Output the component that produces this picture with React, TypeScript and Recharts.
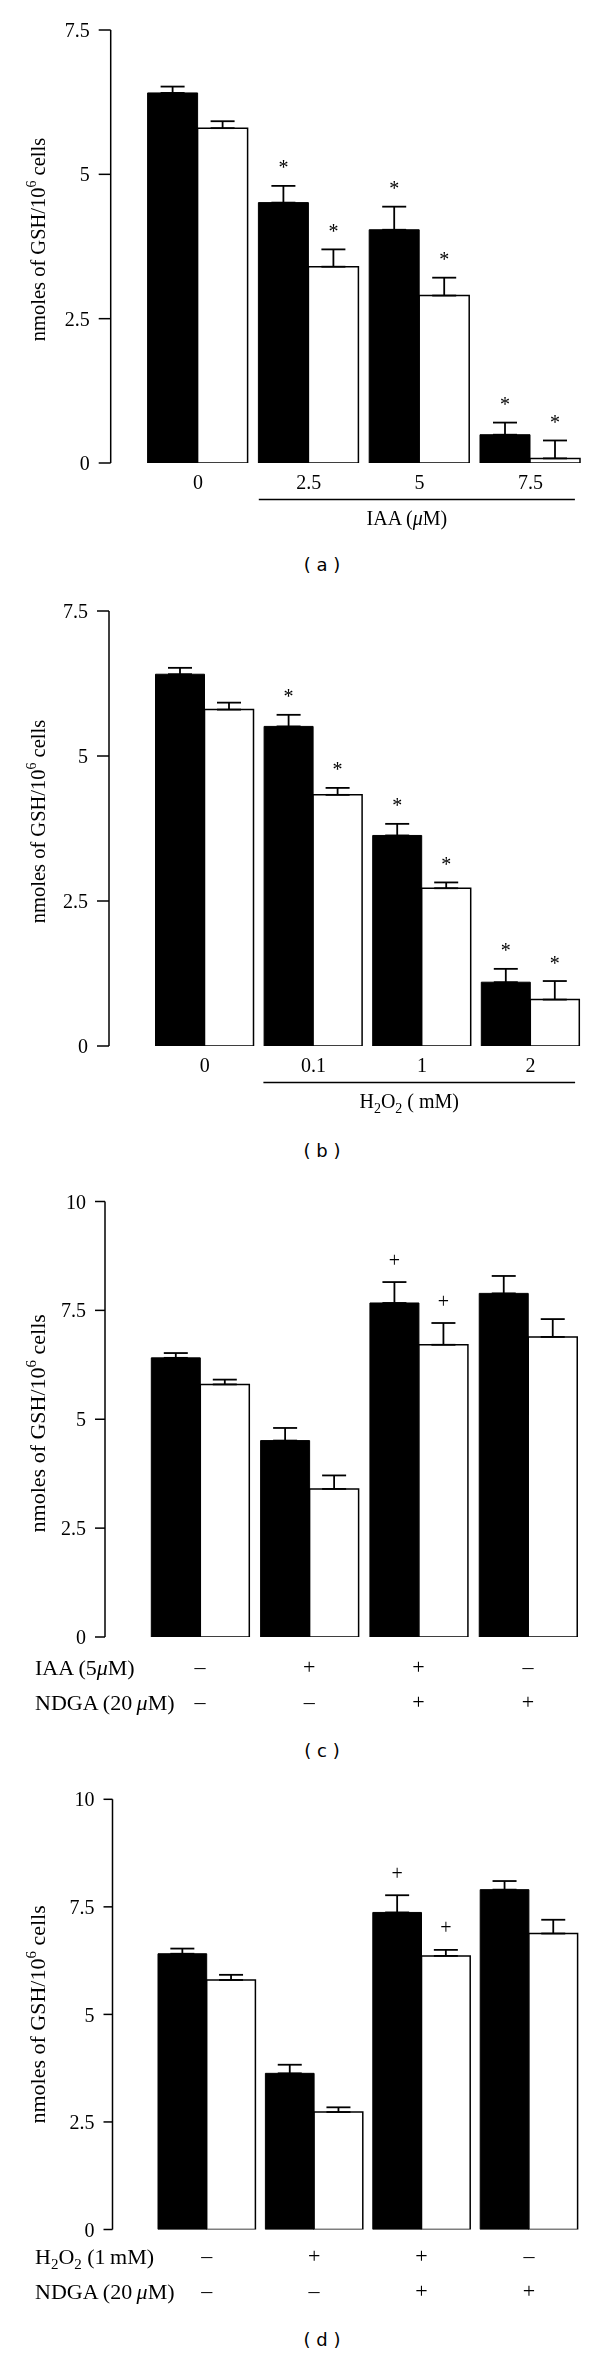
import React from 'react';
import { BarChart, Bar, XAxis, YAxis, ErrorBar, LabelList } from 'recharts';

const SERIF = "'Liberation Serif', 'Times New Roman', serif";

// ---------- Panel (a): IAA (µM) ----------
const catsA = ['0', '2.5', '5', '7.5'];
const blackA = [6.41, 4.51, 4.04, 0.49];
const blackErrA = [0.11, 0.29, 0.40, 0.21];
const whiteA = [5.8, 3.4, 2.9, 0.08];
const whiteErrA = [0.12, 0.3, 0.31, 0.31];
const blackMarkA = ['', '*', '*', '*'];
const whiteMarkA = ['', '*', '*', '*'];

// ---------- Panel (b): H2O2 (mM) ----------
const catsB = ['0', '0.1', '1', '2'];
const blackB = [6.41, 5.51, 3.63, 1.1];
const blackErrB = [0.11, 0.2, 0.2, 0.23];
const whiteB = [5.8, 4.33, 2.72, 0.8];
const whiteErrB = [0.12, 0.12, 0.1, 0.32];
const blackMarkB = ['', '*', '*', '*'];
const whiteMarkB = ['', '*', '*', '*'];

// ---------- Panel (c): IAA / NDGA ----------
const catsC = ['c1', 'c2', 'c3', 'c4'];
const rowC1 = ['\u2013', '+', '+', '\u2013'];
const rowC2 = ['\u2013', '\u2013', '+', '+'];
const blackC = [6.41, 4.51, 7.67, 7.89];
const blackErrC = [0.11, 0.29, 0.48, 0.4];
const whiteC = [5.8, 3.4, 6.71, 6.89];
const whiteErrC = [0.11, 0.31, 0.5, 0.41];
const blackMarkC = ['', '', '+', ''];
const whiteMarkC = ['', '', '+', ''];

// ---------- Panel (d): H2O2 / NDGA ----------
const catsD = ['d1', 'd2', 'd3', 'd4'];
const rowD1 = ['\u2013', '+', '+', '\u2013'];
const rowD2 = ['\u2013', '\u2013', '+', '+'];
const blackD = [6.41, 3.63, 7.37, 7.9];
const blackErrD = [0.12, 0.2, 0.4, 0.2];
const whiteD = [5.8, 2.73, 6.36, 6.88];
const whiteErrD = [0.12, 0.11, 0.14, 0.32];
const blackMarkD = ['', '', '+', ''];
const whiteMarkD = ['', '', '+', ''];

const ticks75 = [0, 2.5, 5, 7.5];
const ticks10 = [0, 2.5, 5, 7.5, 10];

type Row = {
  cat: string;
  b: number; bE: number; bErr: number[]; bM: string;
  w: number; wE: number; wErr: number[]; wM: string;
};

const build = (cats: string[], b: number[], bE: number[], w: number[], wE: number[], bM: string[], wM: string[]): Row[] =>
  cats.map((c, i) => ({
    cat: c,
    b: b[i], bE: bE[i], bErr: [0, bE[i]], bM: bM[i],
    w: w[i], wE: wE[i], wErr: [0, wE[i]], wM: wM[i],
  }));

const dataA = build(catsA, blackA, blackErrA, whiteA, whiteErrA, blackMarkA, whiteMarkA);
const dataB = build(catsB, blackB, blackErrB, whiteB, whiteErrB, blackMarkB, whiteMarkB);
const dataC = build(catsC, blackC, blackErrC, whiteC, whiteErrC, blackMarkC, whiteMarkC);
const dataD = build(catsD, blackD, blackErrD, whiteD, whiteErrD, blackMarkD, whiteMarkD);

const makeMarker = (rows: Row[], valKey: 'b' | 'w', errKey: 'bE' | 'wE') => (props: any) => {
  const vb = props.viewBox && typeof props.viewBox.x === 'number' ? props.viewBox : props;
  const { x, y, width, height } = vb;
  const value = props.value;
  if (!value) return null;
  let idx = props.index;
  if (typeof idx !== 'number') idx = rows.findIndex((r) => r === props.payload);
  const row = rows[idx];
  if (!row) return null;
  const h = Math.abs(height);
  const top = Math.min(y, y + height);
  const ppu = h / row[valKey];
  const errTop = top - row[errKey] * ppu;
  const cy = errTop - 21;
  const base = value === '*' ? cy + 9.5 : cy + 5.5;
  return (
    <text x={x + width / 2} y={base} textAnchor="middle" fontSize={20} fontFamily={SERIF} fill="#000">
      {value}
    </text>
  );
};

const yLabel = (fontSize: number, shift: number) => (p: any) => {
  const vb = p.viewBox || p;
  const cy = vb.y + vb.height / 2 + shift;
  const bx = 45;
  return (
    <text
      x={bx}
      y={cy}
      transform={`rotate(-90, ${bx}, ${cy})`}
      textAnchor="middle"
      fontSize={fontSize}
      fontFamily={SERIF}
      fill="#000"
    >
      nmoles of GSH/10
      <tspan dy={-fontSize * 0.42} fontSize={fontSize * 0.68}>6</tspan>
      <tspan dy={fontSize * 0.42}> cells</tspan>
    </text>
  );
};

const makeDoseTick = (title: React.ReactNode) => (props: any) => {
  const { x, y, payload } = props;
  const idx = typeof props.index === 'number' ? props.index : payload.index;
  const half = payload && typeof payload.offset === 'number' && payload.offset > 0 ? payload.offset : 55;
  const pitch = 2 * half;
  const els: React.ReactNode[] = [
    <text key="t" x={x} y={y + 25.5} textAnchor="middle" fontSize={20} fontFamily={SERIF} fill="#000">
      {payload.value}
    </text>,
  ];
  if (idx === 1) {
    const x1 = x - 50;
    const x2 = x + 2 * pitch + 44.5;
    els.push(<line key="l" x1={x1} x2={x2} y1={y + 36.5} y2={y + 36.5} stroke="#000" strokeWidth={1.5} />);
    els.push(
      <text key="ti" x={(x1 + x2) / 2 - 10} y={y + 62} textAnchor="middle" fontSize={20} fontFamily={SERIF} fill="#000">
        {title}
      </text>
    );
  }
  return <g>{els}</g>;
};

const makeSignTick = (
  row1: string[],
  row2: string[],
  label1: React.ReactNode,
  label2: React.ReactNode,
  dy1: number,
  dy2: number
) => (props: any) => {
  const { x, y, payload } = props;
  const idx = typeof props.index === 'number' ? props.index : payload.index;
  return (
    <g>
      <text x={x} y={y + dy1 + 5.5} textAnchor="middle" fontSize={22} fontFamily={SERIF} fill="#000">
        {row1[idx]}
      </text>
      <text x={x} y={y + dy2 + 5.5} textAnchor="middle" fontSize={22} fontFamily={SERIF} fill="#000">
        {row2[idx]}
      </text>
      {idx === 0 && (
        <g>
          <text x={35} y={y + dy1 + 7} textAnchor="start" fontSize={22} fontFamily={SERIF} fill="#000">
            {label1}
          </text>
          <text x={35} y={y + dy2 + 7} textAnchor="start" fontSize={22} fontFamily={SERIF} fill="#000">
            {label2}
          </text>
        </g>
      )}
    </g>
  );
};

const mu = <tspan fontStyle="italic">{'\u03bc'}</tspan>;

const titleA = (
  <>
    IAA ({mu}M)
  </>
);
const titleB = (
  <>
    H<tspan dy={5} fontSize={14}>2</tspan>
    <tspan dy={-5}>O</tspan>
    <tspan dy={5} fontSize={14}>2</tspan>
    <tspan dy={-5}> ( mM)</tspan>
  </>
);
const iaaRowLabel = (
  <>
    IAA (5{mu}M)
  </>
);
const ndgaRowLabel = (
  <>
    NDGA (20{'\u2009'}{mu}M)
  </>
);
const h2o2RowLabel = (
  <>
    H<tspan dy={5} fontSize={15}>2</tspan>
    <tspan dy={-5}>O</tspan>
    <tspan dy={5} fontSize={15}>2</tspan>
    <tspan dy={-5}> (1{'\u2009'}mM)</tspan>
  </>
);

type PanelProps = {
  data: Row[];
  top: number;
  height: number;
  marginTop: number;
  axisX: number;
  padLeft: number;
  marginRight: number;
  xAxisHeight: number;
  barSize: number;
  domainMax: number;
  ticks: number[];
  tickSize: number;
  tick: any;
  yFont: number;
  yShift: number;
};

const Panel = (p: PanelProps) => {
  const yw = 80;
  return (
    <div style={{ position: 'absolute', left: 0, top: p.top, width: 600, height: p.height, willChange: 'transform' }}>
      <BarChart
        width={600}
        height={p.height}
        data={p.data}
        margin={{ top: p.marginTop, right: p.marginRight, bottom: 0, left: p.axisX - yw }}
        barGap={0}
        barSize={p.barSize}
      >
        <XAxis
          dataKey="cat"
          type="category"
          axisLine={false}
          tickLine={false}
          tickSize={0}
          tickMargin={0}
          height={p.xAxisHeight}
          padding={{ left: p.padLeft, right: 0 }}
          interval={0}
          tick={p.tick}
        />
        <YAxis
          type="number"
          domain={[0, p.domainMax]}
          ticks={p.ticks}
          interval={0}
          width={yw}
          tickSize={p.tickSize}
          tickMargin={9}
          axisLine={{ stroke: '#000', strokeWidth: 1.5 }}
          tickLine={{ stroke: '#000', strokeWidth: 1.5 }}
          tick={{ fill: '#000', fontSize: 20, fontFamily: SERIF }}
          tickFormatter={(v: number) => String(v)}
          allowDataOverflow
          label={yLabel(p.yFont, p.yShift)}
        />
        <Bar dataKey="b" fill="#000" stroke="#000" strokeWidth={1} isAnimationActive={false}>
          <ErrorBar dataKey="bErr" width={12} stroke="#000" strokeWidth={1.8} direction="y" />
          <LabelList dataKey="bM" content={makeMarker(p.data, 'b', 'bE')} />
        </Bar>
        <Bar dataKey="w" fill="#fff" stroke="#000" strokeWidth={1.5} isAnimationActive={false}>
          <ErrorBar dataKey="wErr" width={12} stroke="#000" strokeWidth={1.8} direction="y" />
          <LabelList dataKey="wM" content={makeMarker(p.data, 'w', 'wE')} />
        </Bar>
      </BarChart>
    </div>
  );
};

const Caption = ({ text, cy }: { text: string; cy: number }) => (
  <div
    style={{
      position: 'absolute',
      left: 272,
      width: 100,
      top: cy - 12,
      height: 24,
      lineHeight: '24px',
      textAlign: 'center',
      fontFamily: "'DejaVu Sans', sans-serif",
      fontSize: 18,
      color: '#000',
      whiteSpace: 'pre',
    }}
  >
    {text}
  </div>
);

export default function App() {
  return (
    <div style={{ position: 'absolute', left: 0, top: 0, width: 600, height: 2355, background: '#fff' }}>
      <Panel
        data={dataA}
        top={0}
        height={540}
        marginTop={30}
        axisX={110.7}
        padLeft={31.9}
        marginRight={14.2}
        xAxisHeight={77}
        barSize={50}
        domainMax={7.5}
        ticks={ticks75}
        tickSize={12}
        tick={makeDoseTick(titleA)}
        yFont={20.5}
        yShift={-7}
      />
      <Caption text="( a )" cy={565} />
      <Panel
        data={dataB}
        top={560}
        height={570}
        marginTop={51}
        axisX={109}
        padLeft={41.5}
        marginRight={15.1}
        xAxisHeight={84}
        barSize={49}
        domainMax={7.5}
        ticks={ticks75}
        tickSize={12}
        tick={makeDoseTick(titleB)}
        yFont={20.5}
        yShift={-7}
      />
      <Caption text="( b )" cy={1151} />
      <Panel
        data={dataC}
        top={1160}
        height={560}
        marginTop={41.5}
        axisX={105}
        padLeft={40.3}
        marginRight={17.45}
        xAxisHeight={83}
        barSize={49}
        domainMax={10}
        ticks={ticks10}
        tickSize={10}
        tick={makeSignTick(rowC1, rowC2, iaaRowLabel, ndgaRowLabel, 31, 66)}
        yFont={22}
        yShift={4}
      />
      <Caption text="( c )" cy={1751} />
      <Panel
        data={dataD}
        top={1760}
        height={560}
        marginTop={39.3}
        axisX={112.5}
        padLeft={40.5}
        marginRight={17.4}
        xAxisHeight={90.5}
        barSize={48.7}
        domainMax={10}
        ticks={ticks10}
        tickSize={9}
        tick={makeSignTick(rowD1, rowD2, h2o2RowLabel, ndgaRowLabel, 27.5, 62.5)}
        yFont={22}
        yShift={0}
      />
      <Caption text="( d )" cy={2340} />
    </div>
  );
}
